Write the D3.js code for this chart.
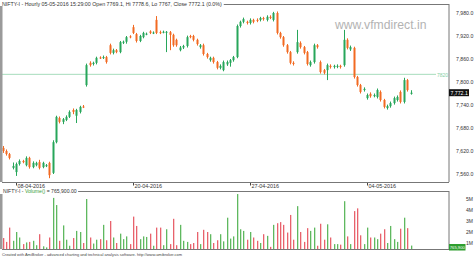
<!DOCTYPE html>
<html><head><meta charset="utf-8">
<script src="https://cdn.jsdelivr.net/npm/d3@7"></script>
<style>
html,body{margin:0;padding:0;background:#fff;overflow:hidden;}
svg{display:block;font-family:"Liberation Sans",Arial,sans-serif;}
</style></head><body>
<svg id="c" width="474" height="257"></svg>
<script>
// ---- data ----
const dateLabels = ["08-04-2016","20-04-2016","27-04-2016","04-05-2016"];
const dateBars = [4,39,74,109];
const opens = [7628,7620,7612,7576,7565,7586,7594,7583,7602,7578,
7583,7591,7578,7581,7589,7563,7643,7706,7696,7701,
7709,7727,7712,7722,7736,7792,7850,7847,7850,7864,
7863,7865,7896,7876,7883,7878,7903,7905,7919,7943,
7925,7907,7917,7925,7932,7928,7962,7930,7930,7929,
7930,7923,7910,7883,7890,7894,7920,7920,7910,7891,
7896,7873,7857,7863,7852,7837,7831,7846,7850,7857,
7865,7946,7957,7957,7954,7962,7962,7962,7967,7962,
7970,7962,7980,7928,7917,7896,7878,7850,7878,7902,
7891,7878,7844,7852,7896,7852,7831,7831,7842,7839,
7840,7842,7844,7910,7885,7889,7813,7792,7779,7758,
7769,7763,7761,7774,7753,7732,7737,7745,7753,7774,
7748,7805,7769.1];
const highs = [7633,7624,7615,7590,7590,7598,7597,7606,7605,7593,
7592,7597,7592,7586,7592,7648,7712,7710,7706,7713,
7726,7731,7730,7738,7740,7848,7854,7853,7866,7867,
7869,7868,7900,7887,7886,7907,7908,7920,7922,7949,
7928,7923,7931,7929,7935,7932,7972,7934,7934,7933,
7933,7926,7913,7894,7897,7921,7923,7923,7913,7899,
7900,7876,7866,7866,7855,7846,7856,7856,7860,7868,
7950,7960,7968,7960,7966,7965,7966,7970,7970,7974,
7974,7983,7984,7931,7920,7899,7881,7854,7936,7906,
7894,7881,7856,7900,7899,7856,7834,7848,7846,7845,
7846,7845,7936,7914,7895,7892,7816,7795,7786,7770,
7773,7770,7783,7778,7756,7741,7749,7762,7765,7778,
7811,7808,7778.6];
const lows = [7615,7608,7598,7572,7555,7582,7588,7580,7574,7575,
7580,7572,7575,7578,7549,7560,7640,7692,7690,7698,
7706,7716,7693,7718,7732,7788,7840,7843,7846,7860,
7860,7848,7872,7872,7875,7875,7899,7900,7914,7925,
7903,7904,7914,7922,7925,7925,7925,7925,7927,7878,
7883,7892,7892,7880,7886,7890,7914,7906,7895,7887,
7869,7861,7853,7848,7833,7833,7828,7842,7840,7853,
7862,7942,7953,7950,7950,7953,7956,7958,7960,7958,
7964,7958,7924,7913,7892,7874,7846,7843,7874,7887,
7872,7843,7840,7848,7887,7822,7820,7805,7835,7835,
7836,7835,7840,7885,7881,7809,7788,7770,7775,7754,
7759,7760,7757,7749,7731,7728,7733,7741,7749,7744,
7744,7775,7767];
const closes = [7620,7612,7602,7581,7586,7594,7591,7602,7578,7589,
7589,7576,7589,7583,7557,7643,7709,7696,7703,7709,
7722,7722,7727,7735,7735,7844,7844,7850,7863,7863,
7865,7852,7876,7883,7878,7904,7905,7917,7917,7928,
7907,7920,7928,7926,7928,7929,7928,7928,7931,7931,
7923,7896,7896,7890,7894,7917,7917,7910,7899,7896,
7873,7865,7863,7852,7837,7842,7852,7852,7857,7865,
7946,7957,7964,7954,7962,7957,7960,7967,7964,7970,
7967,7980,7928,7917,7896,7878,7850,7847,7904,7891,
7876,7847,7852,7896,7891,7826,7824,7844,7839,7842,
7842,7839,7910,7889,7891,7813,7792,7774,7782,7766,
7763,7766,7779,7753,7735,7737,7745,7758,7761,7748,
7805,7779,7772.1];
const volumeM = [1.45,1.1,2.4,1.2,2.0,1.5,0.9,1.05,1.1,1.2,
0.8,1.8,0.7,0.6,1.5,5.1,4.45,1.2,2.6,1.3,
0.75,1.45,2.1,2.0,1.0,5.0,1.5,0.95,1.3,1.35,
2.65,1.25,3.0,1.5,1.0,1.85,1.35,1.6,0.9,3.4,
2.55,1.35,1.6,1.55,1.85,0.75,2.4,2.4,0.8,2.25,
0.9,3.2,0.8,2.65,1.2,1.1,0.9,1.0,2.0,0.9,
2.2,2.0,1.8,1.0,1.25,1.8,1.15,3.3,1.4,1.6,
5.45,2.25,2.1,1.3,2.0,1.5,1.2,1.0,1.8,1.65,
0.65,2.65,2.8,2.9,2.65,1.95,3.55,1.3,4.35,2.0,
1.1,2.35,2.1,2.4,0.75,2.75,1.3,2.7,1.5,0.9,
0.9,0.85,4.8,1.6,0.9,3.9,4.15,1.7,0.9,2.4,
1.5,1.5,1.35,1.85,2.25,1.0,2.55,1.35,1.1,2.3,
3.3,2.35,0.7659];
const priceTicks = [7980,7920,7860,7800,7740,7680,7620,7560];
const volTicks = [5,4,3,2,1];
const volTickLabels = ["5M","4M","3M","2M","1M"];
const levelLine = 7820;
const lastClose = 7772.1;
const lastVolumeLabel = "765,900";
const titleText = "NIFTY-I - Hourly 05-05-2016 15:29:00 Open 7769.1, Hi 7778.6, Lo 7767, Close 7772.1 (0.0%)";
const volTitleA = "NIFTY-I - ", volTitleB = "Volume()", volTitleC = " = 765,900.00";
const footerText = "Created with AmiBroker - advanced charting and technical analysis software. http://www.amibroker.com";
const watermark = "www.vfmdirect.in";

// ---- layout ----
const svg = d3.select("#c");
const L = 2, R = 449, mainTop = 4, mainBot = 182, volTop = 191, volBot = 249;
const upC = "#27a65a", dnC = "#f26a22", vUp = "#5fb85f", vDn = "#e8626c";

const bars = d3.range(opens.length).map(i => ({i, o:opens[i], h:highs[i], l:lows[i], c:closes[i], v:volumeM[i]}));
const x = d3.scaleLinear().domain([0, 122]).range([2.63, 410.5]);
const y = d3.scaleLinear().domain([7560, 7980]).range([174, 13]);
const yv = d3.scaleLinear().domain([0, 5]).range([254, 199]);

const defs = svg.append("defs");
defs.append("clipPath").attr("id","cm").append("rect").attr("x",L).attr("y",mainTop).attr("width",R-L).attr("height",mainBot-mainTop);
defs.append("clipPath").attr("id","cv").append("rect").attr("x",L).attr("y",volTop).attr("width",R-L).attr("height",volBot-volTop);

// watermark
svg.append("text").attr("x",335).attr("y",28.5).attr("font-size",12.2).attr("fill","#b3b3b3").text(watermark);

// level line
const gm = svg.append("g").attr("clip-path","url(#cm)");
gm.append("line").attr("x1",L).attr("x2",436).attr("y1",y(levelLine)).attr("y2",y(levelLine))
  .attr("stroke","#a6dcbc").attr("stroke-width",1);
svg.append("text").attr("x",437).attr("y",y(levelLine)+2.5).attr("font-size",5).attr("fill","#86cfa4").text(String(levelLine));

// candles
const cg = gm.selectAll("g.cd").data(bars).join("g").attr("class","cd");
cg.append("line").attr("x1",d=>Math.round(x(d.i))+0.5).attr("x2",d=>Math.round(x(d.i))+0.5)
  .attr("y1",d=>y(d.h)).attr("y2",d=>y(d.l)).attr("stroke",d=>d.c>=d.o?upC:dnC).attr("stroke-width",1);
cg.append("rect").attr("x",d=>Math.round(x(d.i))-0.5).attr("width",2)
  .attr("y",d=>y(Math.max(d.o,d.c))).attr("height",d=>Math.max(1,Math.abs(y(d.o)-y(d.c))))
  .attr("fill",d=>d.c>=d.o?upC:dnC);

// main frame
svg.append("line").attr("x1",R).attr("x2",R).attr("y1",mainTop).attr("y2",mainBot).attr("stroke","#777");
svg.append("line").attr("x1",L).attr("x2",R).attr("y1",mainBot+0.5).attr("y2",mainBot+0.5).attr("stroke","#777");
const tt = svg.append("text").attr("x",2).attr("y",6).attr("font-size",5.3).attr("fill","#333").text(titleText);
const tw = tt.node().getComputedTextLength();
svg.append("line").attr("x1",2+tw+2).attr("x2",R).attr("y1",mainTop+0.5).attr("y2",mainTop+0.5).attr("stroke","#777");

// price axis labels
svg.append("g").selectAll("text").data(priceTicks).join("text")
  .attr("x",456).attr("y",d=>y(d)+2).attr("font-size",5.2).attr("fill","#333")
  .text(d=>d3.format(",.1f")(d));
// last close box
const lb = svg.append("g");
lb.append("rect").attr("x",449).attr("y",y(lastClose)-3.5).attr("width",20).attr("height",7).attr("fill","#111");
lb.append("text").attr("x",450.5).attr("y",y(lastClose)+2).attr("font-size",5.2).attr("fill","#fff").text(d3.format(",.1f")(lastClose));

// date labels
const dg = svg.append("g").selectAll("g").data(dateBars).join("g");
dg.append("line").attr("x1",d=>Math.round(x(d))+0.5).attr("x2",d=>Math.round(x(d))+0.5).attr("y1",183).attr("y2",185.5).attr("stroke","#444");
dg.append("text").attr("x",d=>x(d)+1.5).attr("y",188).attr("font-size",5.4).attr("fill","#333").text((d,k)=>dateLabels[k]);

// volume pane
const gv = svg.append("g").attr("clip-path","url(#cv)");
gv.selectAll("rect").data(bars).join("rect")
  .attr("x",d=>Math.round(x(d.i))).attr("width",1.3)
  .attr("y",d=>yv(d.v)).attr("height",d=>yv(0)-yv(d.v))
  .attr("fill",d=>d.c>=d.o?vUp:vDn);
const vt = svg.append("text").attr("x",3).attr("y",192.8).attr("font-size",5.1).attr("fill","#333");
vt.append("tspan").text(volTitleA);
vt.append("tspan").attr("fill","#3a9e3a").text(volTitleB);
vt.append("tspan").text(volTitleC);
const vw = vt.node().getComputedTextLength();
svg.append("line").attr("x1",3+vw+1.5).attr("x2",R).attr("y1",volTop+0.5).attr("y2",volTop+0.5).attr("stroke","#777");
svg.append("line").attr("x1",R).attr("x2",R).attr("y1",volTop).attr("y2",volBot).attr("stroke","#777");
svg.append("line").attr("x1",L).attr("x2",R).attr("y1",volBot+0.5).attr("y2",volBot+0.5).attr("stroke","#777");
svg.append("g").selectAll("text").data(volTicks).join("text")
  .attr("x",466).attr("y",d=>yv(d)+1.8).attr("font-size",5).attr("fill","#333").text((d,k)=>volTickLabels[k]);
const vb = svg.append("g");
vb.append("rect").attr("x",449).attr("y",244).attr("width",16.5).attr("height",6.5).attr("fill","#2e9e2e");
vb.append("text").attr("x",449.8).attr("y",249).attr("font-size",4.4).attr("fill","#fff")
  .attr("textLength",15).attr("lengthAdjust","spacingAndGlyphs").text(lastVolumeLabel);

// left gray bar
svg.append("rect").attr("x",0).attr("y",6).attr("width",2.5).attr("height",mainBot-6).attr("fill","#9a9a9a");
svg.append("rect").attr("x",0).attr("y",194).attr("width",2.5).attr("height",volBot-194).attr("fill","#9a9a9a");

// footer
svg.append("text").attr("x",2).attr("y",256).attr("font-size",4.2).attr("fill","#444")
  .attr("textLength",180).attr("lengthAdjust","spacingAndGlyphs").text(footerText);
</script>
</body></html>
